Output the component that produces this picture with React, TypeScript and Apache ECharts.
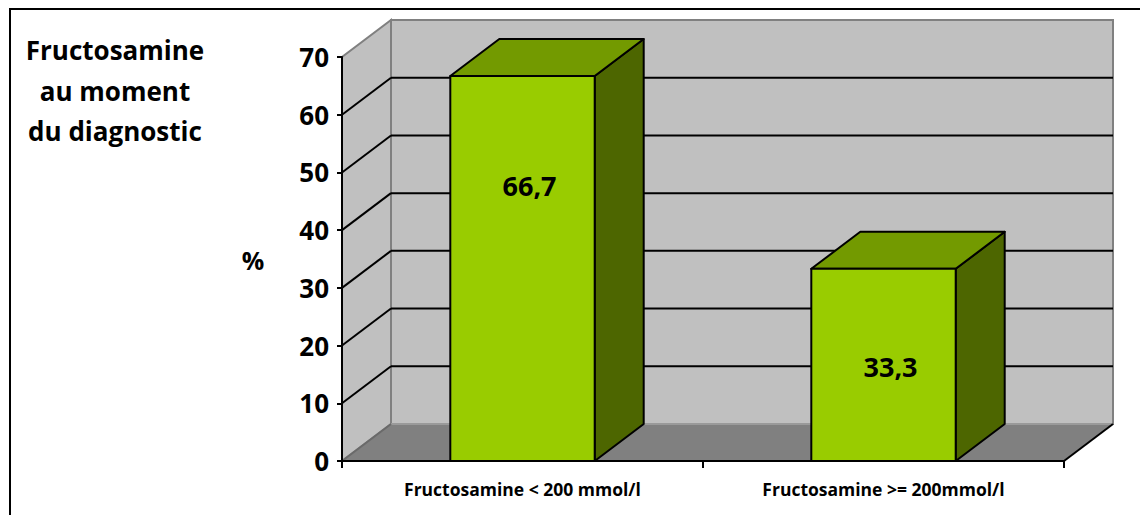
import React, { useEffect, useRef } from 'react';
import * as echarts from 'echarts';

// ---- data ----
const CATEGORIES = ['Fructosamine < 200 mmol/l', 'Fructosamine >= 200mmol/l'];
const VALUES = [66.7, 33.3];
const Y_MIN = 0;
const Y_MAX = 70;
const Y_STEP = 10;
const TITLE_LINES = ['Fructosamine', 'au moment', 'du diagnostic'];
const Y_NAME = '%';
// where the data labels sit on each bar, in axis units (as placed in the reference)
const LABEL_ANCHORS = [47.8, 16.4];

// ---- style ----
const FONT = "'Open Sans', sans-serif";
const DX = 49;
const DY = -37;
const BAR_RATIO = 0.4;
const LABEL_DX = 7;
const C_FRONT = '#99CC00';
const C_TOP = '#739A00';
const C_SIDE = '#4D6600';
const C_WALL = '#C0C0C0';
const C_FLOOR = '#808080';
const C_EDGE = '#808080';

const fmt = (v: number) => v.toFixed(1).replace('.', ',');

export default function App() {
  const ref = useRef<HTMLDivElement>(null);
  useEffect(() => {
    const chart = echarts.init(ref.current!, null, { renderer: 'svg' });
    const yTicks: number[] = [];
    for (let v = Y_MIN; v <= Y_MAX; v += Y_STEP) yTicks.push(v);

    const option: any = {
      animation: false,
      backgroundColor: '#fff',
      grid: { left: 342, right: 76, top: 57, bottom: 54, containLabel: false, outerBoundsMode: 'none' },
      xAxis: {
        type: 'category',
        data: CATEGORIES,
        z: 10,
        axisLine: { show: true, lineStyle: { color: '#000', width: 2 } },
        axisTick: { show: true, length: 7, lineStyle: { color: '#000', width: 2 } },
        axisLabel: {
          interval: 0,
          margin: 19,
          color: '#000',
          fontFamily: FONT,
          fontWeight: 'bold',
          fontSize: 17.5,
        },
        splitLine: { show: false },
      },
      yAxis: {
        type: 'value',
        min: Y_MIN,
        max: Y_MAX,
        interval: Y_STEP,
        z: 10,
        axisLine: { show: true, lineStyle: { color: '#000', width: 2 } },
        axisTick: { show: true, length: 5, lineStyle: { color: '#000', width: 2 } },
        axisLabel: {
          margin: 13,
          color: '#000',
          fontFamily: FONT,
          fontWeight: 'bold',
          fontSize: 26,
        },
        splitLine: { show: false },
      },
      graphic: [
        {
          type: 'rect',
          shape: { x: 10, y: 9, width: 1200, height: 600 },
          style: { fill: 'none', stroke: '#000', lineWidth: 2 },
          silent: true,
        },
        {
          type: 'text',
          x: 115,
          y: 30,
          style: {
            text: TITLE_LINES.join('\n'),
            font: `bold 26px ${FONT}`,
            fill: '#000',
            align: 'center',
            verticalAlign: 'top',
            lineHeight: 40.5,
          },
        },
        {
          type: 'text',
          x: 253,
          y: 260,
          style: {
            text: Y_NAME,
            font: `bold 25px ${FONT}`,
            fill: '#000',
            align: 'center',
            verticalAlign: 'middle',
          },
        },
      ],
      series: [
        {
          type: 'custom',
          name: 'walls',
          z: 1,
          clip: false,
          silent: true,
          data: [[0, 0]],
          renderItem: (params: any, api: any) => {
            const cs = params.coordSys;
            const x0 = cs.x;
            const x1 = cs.x + cs.width;
            const yT = cs.y;
            const yB = cs.y + cs.height;
            const children: any[] = [];
            // back wall
            children.push({
              type: 'rect',
              shape: { x: x0 + DX, y: yT + DY, width: x1 - x0, height: yB - yT },
              style: { fill: C_WALL, stroke: C_EDGE, lineWidth: 2 },
            });
            // side wall
            children.push({
              type: 'polygon',
              shape: { points: [[x0, yB], [x0, yT], [x0 + DX, yT + DY], [x0 + DX, yB + DY]] },
              style: { fill: C_WALL, stroke: C_EDGE, lineWidth: 2 },
            });
            // gridlines
            yTicks.forEach((v) => {
              if (v === Y_MIN || v === Y_MAX) return;
              const y = api.coord([0, v])[1];
              children.push({
                type: 'line',
                shape: { x1: x0 + DX, y1: y + DY, x2: x1 + DX, y2: y + DY },
                style: { stroke: '#000', lineWidth: 2 },
              });
              children.push({
                type: 'line',
                shape: { x1: x0, y1: y, x2: x0 + DX, y2: y + DY },
                style: { stroke: '#000', lineWidth: 2 },
              });
            });
            // floor
            children.push({
              type: 'polygon',
              shape: { points: [[x0, yB], [x1, yB], [x1 + DX, yB + DY], [x0 + DX, yB + DY]] },
              style: { fill: C_FLOOR, stroke: null },
            });
            children.push({
              type: 'line',
              shape: { x1: x0 + DX, y1: yB + DY, x2: x1 + DX, y2: yB + DY },
              style: { stroke: '#9a9a9a', lineWidth: 2 },
            });
            children.push({
              type: 'line',
              shape: { x1: x1, y1: yB, x2: x1 + DX, y2: yB + DY },
              style: { stroke: '#000', lineWidth: 2 },
            });
            children.push({
              type: 'line',
              shape: { x1: x0, y1: yB, x2: x0 + DX, y2: yB + DY },
              style: { stroke: '#6a6a6a', lineWidth: 2 },
            });
            return { type: 'group', children };
          },
        },
        {
          type: 'custom',
          name: 'bars',
          z: 3,
          clip: false,
          silent: true,
          data: VALUES.map((v, i) => [i, v]),
          renderItem: (params: any, api: any) => {
            const idx = api.value(0);
            const val = api.value(1);
            const [cx, yt] = api.coord([idx, val]);
            const yb = api.coord([idx, 0])[1];
            const band = api.size([1, 0])[0];
            const w = band * BAR_RATIO;
            const xl = cx - w / 2;
            const xr = cx + w / 2;
            const ly = api.coord([idx, LABEL_ANCHORS[params.dataIndex]])[1];
            const edge = { stroke: '#000', lineWidth: 2, lineJoin: 'round' };
            return {
              type: 'group',
              children: [
                {
                  type: 'polygon',
                  shape: { points: [[xr, yt], [xr, yb], [xr + DX, yb + DY], [xr + DX, yt + DY]] },
                  style: { fill: C_SIDE, ...edge },
                },
                {
                  type: 'polygon',
                  shape: { points: [[xl, yt], [xr, yt], [xr + DX, yt + DY], [xl + DX, yt + DY]] },
                  style: { fill: C_TOP, ...edge },
                },
                {
                  type: 'rect',
                  shape: { x: xl, y: yt, width: w, height: yb - yt },
                  style: { fill: C_FRONT, ...edge },
                },
                {
                  type: 'text',
                  x: cx + LABEL_DX,
                  y: ly,
                  style: {
                    text: fmt(val),
                    font: `bold 27px ${FONT}`,
                    fill: '#000',
                    align: 'center',
                    verticalAlign: 'middle',
                  },
                },
              ],
            };
          },
        },
      ],
    };
    chart.setOption(option);
    return () => chart.dispose();
  }, []);
  return (
    <div
      ref={ref}
      style={{ position: 'fixed', left: 0, top: 0, width: 1140, height: 515, background: '#fff' }}
    />
  );
}
